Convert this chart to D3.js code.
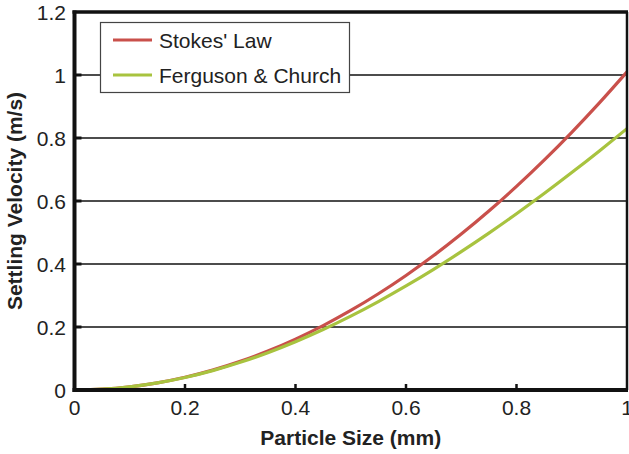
<!DOCTYPE html>
<html>
<head>
<meta charset="utf-8">
<script src="https://cdn.jsdelivr.net/npm/d3@7"></script>
<style>
  html, body { margin: 0; padding: 0; background: #fff; }
  text { font-family: "Liberation Sans", Arial, sans-serif; fill: #222; }
</style>
</head>
<body>
<script>
// particle size (mm) and settling velocity (m/s)
const sizes = [0, 0.05, 0.1, 0.15, 0.2, 0.25, 0.3, 0.35, 0.4, 0.45, 0.5,
               0.55, 0.6, 0.65, 0.7, 0.75, 0.8, 0.85, 0.9, 0.95, 1.0];
const stokes = [0, 0.0025, 0.0101, 0.0227, 0.0404, 0.0631, 0.0909, 0.1237, 0.1616, 0.2045, 0.2525,
                0.3055, 0.3636, 0.4267, 0.4949, 0.5681, 0.6464, 0.7297, 0.8181, 0.9115, 1.01];
const ferguson = [0, 0.0025, 0.0100, 0.0224, 0.0396, 0.0614, 0.0878, 0.1184, 0.1532, 0.1919, 0.2345,
                  0.2807, 0.3303, 0.3831, 0.4391, 0.4979, 0.5595, 0.6236, 0.6902, 0.7590, 0.8299];
const seriesNames = ["Stokes' Law", "Ferguson & Church"];
const seriesColors = ["#c9504b", "#a8c33f"];
const xTicks = [0, 0.2, 0.4, 0.6, 0.8, 1];
const yTicks = [0, 0.2, 0.4, 0.6, 0.8, 1, 1.2];

const width = 629, height = 454;
const plot = { left: 74.5, right: 627, top: 12, bottom: 390 };
const fontSize = "21px";

const svg = d3.select("body").append("svg")
    .attr("width", width)
    .attr("height", height);

const x = d3.scaleLinear().domain([0, 1]).range([plot.left, plot.right]);
const y = d3.scaleLinear().domain([0, 1.2]).range([plot.bottom, plot.top]);

// gridlines
svg.append("g")
    .selectAll("line")
    .data(yTicks.filter(t => t > 0 && t < 1.2))
    .enter().append("line")
    .attr("x1", plot.left).attr("x2", plot.right)
    .attr("y1", d => y(d)).attr("y2", d => y(d))
    .attr("stroke", "#111")
    .attr("stroke-width", 1.7);

// inward ticks on x axis
svg.append("g")
    .selectAll("line")
    .data(xTicks.filter(t => t > 0 && t < 1))
    .enter().append("line")
    .attr("x1", d => x(d)).attr("x2", d => x(d))
    .attr("y1", plot.bottom).attr("y2", plot.bottom - 6)
    .attr("stroke", "#111")
    .attr("stroke-width", 2.5);

// inward ticks on y axis
svg.append("g")
    .selectAll("line")
    .data(yTicks.filter(t => t > 0 && t < 1.2))
    .enter().append("line")
    .attr("x1", plot.left).attr("x2", plot.left + 7)
    .attr("y1", d => y(d)).attr("y2", d => y(d))
    .attr("stroke", "#111")
    .attr("stroke-width", 3);

// curves
const line = d3.line()
    .x((d, i) => x(sizes[i]))
    .y(d => y(d))
    .curve(d3.curveMonotoneX);

[stokes, ferguson].forEach((s, k) => {
    svg.append("path")
        .datum(s)
        .attr("d", line)
        .attr("fill", "none")
        .attr("stroke", seriesColors[k])
        .attr("stroke-width", 3.2);
});

// frame
svg.append("line").attr("x1", plot.right).attr("x2", plot.right).attr("y1", plot.top).attr("y2", plot.bottom)
    .attr("stroke", "#111").attr("stroke-width", 2.5);
svg.append("line").attr("x1", plot.left - 2).attr("x2", plot.right + 1).attr("y1", plot.top).attr("y2", plot.top)
    .attr("stroke", "#111").attr("stroke-width", 3.5);
svg.append("line").attr("x1", plot.left - 2).attr("x2", plot.right + 1).attr("y1", plot.bottom).attr("y2", plot.bottom)
    .attr("stroke", "#111").attr("stroke-width", 4);
svg.append("line").attr("x1", plot.left).attr("x2", plot.left).attr("y1", plot.top - 1.5).attr("y2", plot.bottom + 2)
    .attr("stroke", "#111").attr("stroke-width", 4);

// tick labels
svg.append("g")
    .selectAll("text")
    .data(xTicks)
    .enter().append("text")
    .attr("x", d => x(d))
    .attr("y", 415)
    .attr("text-anchor", "middle")
    .style("font-size", fontSize)
    .text(d => d3.format("~g")(d));

svg.append("g")
    .selectAll("text")
    .data(yTicks)
    .enter().append("text")
    .attr("x", 66)
    .attr("y", d => y(d))
    .attr("dy", "0.36em")
    .attr("text-anchor", "end")
    .style("font-size", fontSize)
    .text(d => d3.format("~g")(d));

// axis titles
svg.append("text")
    .attr("x", (plot.left + plot.right) / 2)
    .attr("y", 445)
    .attr("text-anchor", "middle")
    .style("font-size", fontSize)
    .style("font-weight", "bold")
    .text("Particle Size (mm)");

svg.append("text")
    .attr("transform", `translate(22, ${(plot.top + plot.bottom) / 2}) rotate(-90)`)
    .attr("text-anchor", "middle")
    .style("font-size", fontSize)
    .style("font-weight", "bold")
    .text("Settling Velocity (m/s)");

// legend
const legend = svg.append("g");
legend.append("rect")
    .attr("x", 100.5).attr("y", 22.5)
    .attr("width", 249).attr("height", 70)
    .attr("fill", "#fff")
    .attr("stroke", "#444")
    .attr("stroke-width", 1.2);

seriesNames.forEach((name, k) => {
    const ly = 40 + k * 35;
    legend.append("line")
        .attr("x1", 113).attr("x2", 152)
        .attr("y1", ly).attr("y2", ly)
        .attr("stroke", seriesColors[k])
        .attr("stroke-width", 3.2);
    legend.append("text")
        .attr("x", 159)
        .attr("y", ly)
        .attr("dy", "0.36em")
        .style("font-size", fontSize)
        .text(name);
});
</script>
</body>
</html>
